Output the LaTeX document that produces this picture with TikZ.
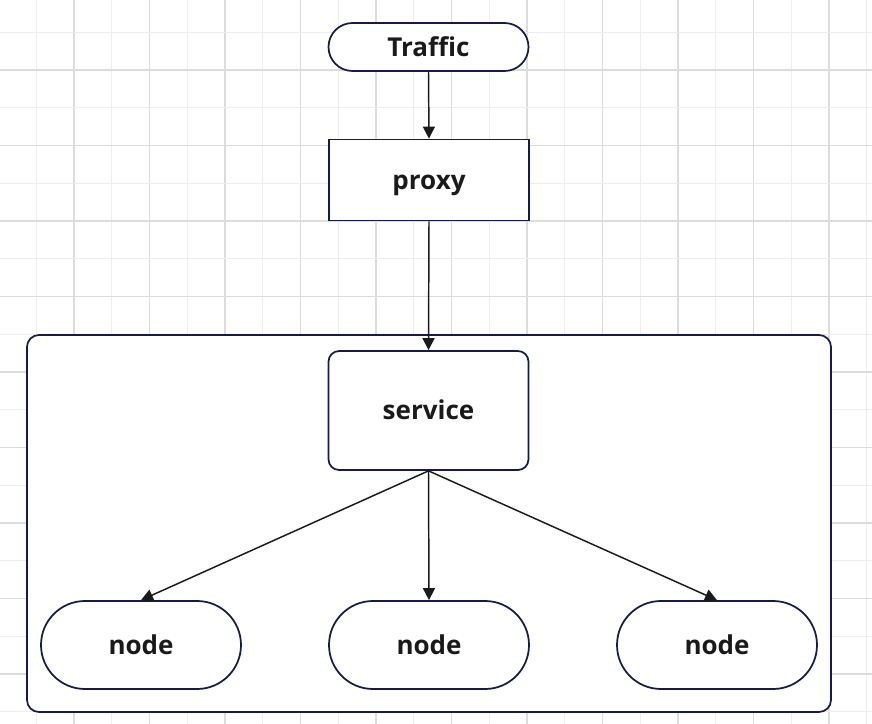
\documentclass[tikz,border=0pt]{standalone}
\usepackage{fontspec}
\setmainfont{Open Sans}
\usetikzlibrary{arrows.meta,shapes.misc}
\definecolor{gridminor}{HTML}{EDEDED}
\definecolor{gridmajor}{HTML}{DCDCDC}
\definecolor{navy}{HTML}{151A4B}
\definecolor{ink}{HTML}{1A1A1A}
\tikzset{
  shapeline/.style={draw=navy, line width=1.3pt, fill=white, text=ink, font=\bfseries\fontsize{19.5}{22}\selectfont, text height=14.5pt, text depth=0.6pt},
  pill/.style={shapeline, rounded rectangle, minimum width=200*0.75pt, inner sep=0pt},
  boxrect/.style={shapeline, rectangle, minimum width=200*0.75pt, inner sep=0pt},
  conn/.style={draw=ink, line width=1.1pt, -{Triangle[length=9pt,width=9pt]}},
}
\begin{document}
\begin{tikzpicture}[x=0.75pt,y=-0.75pt]
\useasboundingbox (0,0) rectangle (872,724);
\fill[white] (0,0) rectangle (872,724);
% grid
\foreach \i in {0,...,22} {
  \pgfmathsetmacro{\xx}{36.25+37.75*\i}
  \pgfmathtruncatemacro{\odd}{mod(\i,2)}
  \ifnum\odd=1
    \draw[gridmajor, line width=1.1pt] (\xx,0) -- (\xx,724);
  \else
    \draw[gridminor, line width=1.1pt] (\xx,0) -- (\xx,724);
  \fi
}
\foreach \i in {0,...,18} {
  \pgfmathsetmacro{\yy}{32.25+37.75*\i}
  \pgfmathtruncatemacro{\odd}{mod(\i,2)}
  \ifnum\odd=1
    \draw[gridmajor, line width=1.1pt] (0,\yy) -- (872,\yy);
  \else
    \draw[gridminor, line width=1.1pt] (0,\yy) -- (872,\yy);
  \fi
}
% container
\draw[navy, line width=1.3pt, fill=white, rounded corners=9pt] (27,335) rectangle (831,712);
% nodes
\node[pill, minimum height=48*0.75pt] (traffic) at (428.5,47) {Traffic};
\node[boxrect, minimum height=81*0.75pt] (proxy) at (429,180) {proxy};
\node[boxrect, rounded corners=8pt, minimum height=119*0.75pt] (service) at (428.5,410.5) {service};
\node[pill, minimum height=88*0.75pt] (n1) at (141,645) {node};
\node[pill, minimum height=88*0.75pt] (n2) at (429,645) {node};
\node[pill, minimum height=88*0.75pt] (n3) at (717,645) {node};
% connectors
\draw[conn] (traffic.south) -- (proxy.north);
\draw[conn] (proxy.south) -- (service.north);
\draw[conn] (service.south) -- (n1.north);
\draw[conn] (service.south) -- (n2.north);
\draw[conn] (service.south) -- (n3.north);
\end{tikzpicture}
\end{document}
